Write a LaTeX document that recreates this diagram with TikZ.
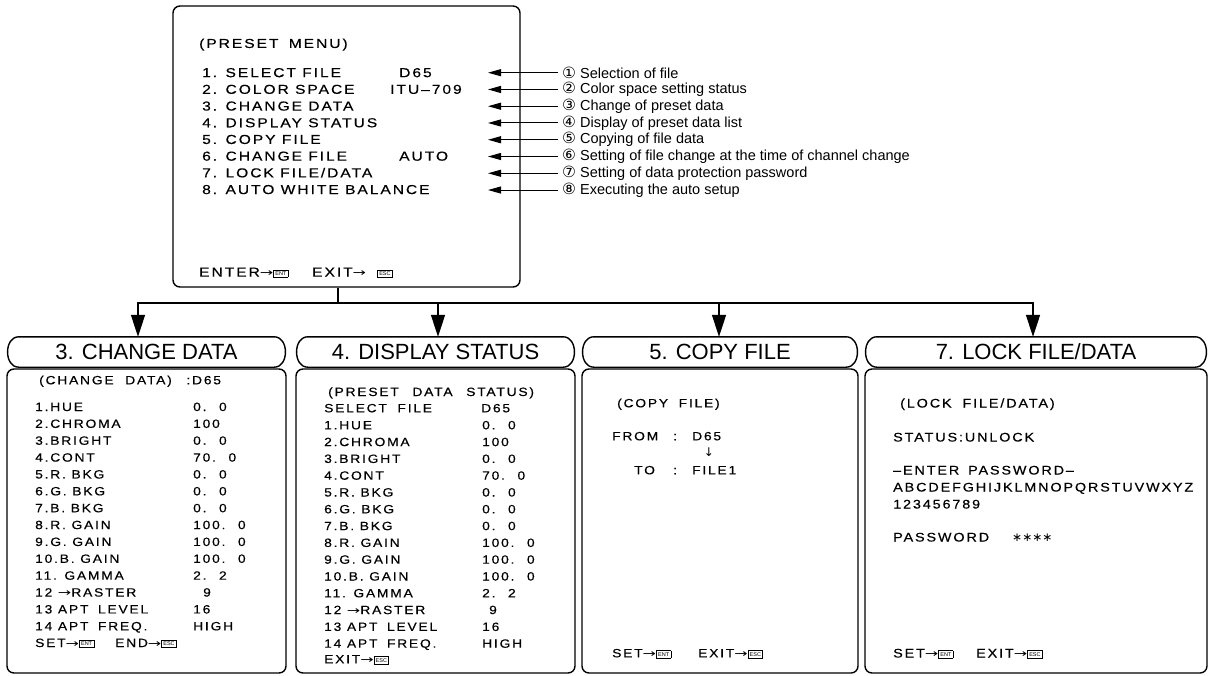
\documentclass[tikz,border=0pt]{standalone}
\usepackage{fontspec}
\setmainfont{Liberation Sans}
\newfontfamily\osdfont[FakeStretch=1.15, LetterSpace=15, FakeBold=0.4]{Liberation Sans}
\newfontfamily\osdtopfont[FakeStretch=1.2, LetterSpace=15, FakeBold=0.4]{Liberation Sans}
\newfontfamily\circfont{DejaVu Sans}
\newfontfamily\keyfont{Liberation Sans}
\usetikzlibrary{arrows.meta}
\newcommand\keycap[1]{{\setlength\fboxsep{0.6pt}\setlength\fboxrule{0.7pt}\raisebox{1.2pt}{\fbox{\hspace{0.8pt}\rule[-0.8pt]{0pt}{5.4pt}\keyfont\fontsize{5.5}{5.5}\selectfont #1\hspace{0.8pt}}}}}
\newcommand\osdarrow{\scalebox{1.45}[1]{\circfont\fontsize{11}{11}\selectfont →}}
\newcommand\osddown{{\circfont\fontsize{12}{12}\selectfont ↓}}
\newcommand\osdgap{\hspace{5pt}}
\newcommand\hdrshape[1]{\draw[boxline] ([xshift=12pt]#1.north west) -- ([xshift=-12pt]#1.north east) .. controls ([xshift=3pt]#1.north east) and ([xshift=3pt]#1.south east) .. ([xshift=-12pt]#1.south east) -- ([xshift=12pt]#1.south west) .. controls ([xshift=-3pt]#1.south west) and ([xshift=-3pt]#1.north west) .. cycle;}
\tikzset{
  boxline/.style={line width=1.4pt},
  panel/.style={boxline, draw, rounded corners=7pt, inner sep=0pt},
  osd/.style={anchor=west, inner sep=0pt, font=\osdfont\fontsize{12}{13}\selectfont, text height=8.6pt, text depth=0pt},
  osdbig/.style={osd, font=\osdfont\fontsize{12.5}{14}\selectfont, text height=9pt},
  osdtop/.style={osd, font=\osdtopfont\fontsize{13}{14}\selectfont, text height=9.3pt},
  note/.style={anchor=west, inner sep=0pt, font=\fontsize{14.5}{16}\selectfont},
  hdr/.style={inner sep=0pt, minimum height=30pt, font=\fontsize{22}{24}\selectfont},
  conn/.style={line width=1.4pt},
  thin conn/.style={line width=1pt},
  bigtip/.tip={Triangle[length=22pt,width=14pt]},
  smalltip/.tip={Triangle[length=13pt,width=7pt]}
}
\begin{document}
\begin{tikzpicture}[x=1pt,y=-1pt]
\useasboundingbox (0,0) rectangle (1209,675);
% ---- top menu ----
\node[panel, minimum width=347pt, minimum height=281pt] (menu) at (346.5,146.5) {};
\node[osdtop] (mt) at (199,43.3) {(PRESET\hspace{4pt} MENU)};
\foreach \t [count=\i] in {1. SELECT FILE, 2. COLOR SPACE, 3. CHANGE DATA, 4. DISPLAY STATUS, 5. COPY FILE, 6. CHANGE FILE, 7. LOCK FILE/DATA, 8. AUTO WHITE BALANCE}
  \node[osdtop] (m\i) at (202,{72.5+16.7*(\i-1)}) {\t};
\node[osdtop] (v1) at (399,72.5) {D65};
\node[osdtop] (v2) at (390,89.2) {ITU–709};
\node[osdtop] (v6) at (399,156) {AUTO};
\node[osdtop] (ent) at (199,272) {ENTER\osdarrow\keycap{ENT}};
\node[osdtop] (ext) at (312,272) {EXIT\osdarrow};
\node[osdtop] (esc) at (377,272) {\keycap{ESC}};
% ---- annotations ----
\coordinate (tipx) at (488,0);
\foreach \c/\t [count=\i] in {①/Selection of file, ②/Color space setting status, ③/Change of preset data, ④/Display of preset data list, ⑤/Copying of file data, ⑥/Setting of file change at the time of channel change, ⑦/Setting of data protection password, ⑧/Executing the auto setup}{
  \node[note] (a\i) at (562,{72.7+16.76*(\i-1)}) {{\circfont\fontsize{15.5}{16}\selectfont\c} \t};
  \draw[thin conn, -smalltip] ([xshift=-4pt]a\i.west) -- (a\i.west -| tipx);
}
% ---- headers and panels ----
\node[hdr, minimum width=279pt] (h3) at (146.5,352) {3. CHANGE DATA};
\node[hdr, minimum width=279pt] (h4) at (435.5,352) {4. DISPLAY STATUS};
\node[hdr, minimum width=276pt] (h5) at (720,352) {5. COPY FILE};
\node[hdr, minimum width=342pt] (h7) at (1036,352) {7. LOCK FILE/DATA};
\hdrshape{h3}\hdrshape{h4}\hdrshape{h5}\hdrshape{h7}
\node[panel, minimum width=279pt, minimum height=304pt] (p3) at (146.5,521) {};
\node[panel, minimum width=279pt, minimum height=304pt] (p4) at (435.5,521) {};
\node[panel, minimum width=276pt, minimum height=304pt] (p5) at (720,521) {};
\node[panel, minimum width=342pt, minimum height=304pt] (p7) at (1036,521) {};
% ---- connectors ----
\coordinate (j) at (338,303);
\coordinate (b1) at (138,303);
\coordinate (b2) at (438,303);
\coordinate (b3) at (719,303);
\coordinate (b4) at (1033,303);
\draw[conn] (menu.south -| j) -- (j);
\draw[conn, bigtip-bigtip] (b1 |- h3.north) -- (b1) -- (b4) -- (b4 |- h7.north);
\draw[conn, -bigtip] (b2) -- (b2 |- h4.north);
\draw[conn, -bigtip] (b3) -- (b3 |- h5.north);
% ---- panel 3: change data ----
\node[osd] (c0) at (39,380) {(CHANGE\hspace{6pt} DATA)\hspace{9pt} :D65};
\foreach \l/\v [count=\i] in {1.HUE/0.\osdgap{} 0, 2.CHROMA/100, 3.BRIGHT/0.\osdgap{} 0, 4.CONT/70.\osdgap{} 0, 5.R. BKG/0.\osdgap{} 0, 6.G. BKG/0.\osdgap{} 0, 7.B. BKG/0.\osdgap{} 0, 8.R. GAIN/100.\osdgap{} 0, 9.G. GAIN/100.\osdgap{} 0, 10.B. GAIN/100.\osdgap{} 0, 11. GAMMA/2.\osdgap{} 2, 12 \osdarrow RASTER/\hspace*{10pt}9, 13 APT\hspace{4pt} LEVEL/16, 14 APT\hspace{4pt} FREQ./HIGH}{
  \node[osd] (cl\i) at (35,{406.7+16.87*(\i-1)}) {\l};
  \node[osd] (cv\i) at (193,{406.7+16.87*(\i-1)}) {\v};
}
\node[osd] (cset) at (35,642.7) {SET\osdarrow\keycap{ENT}};
\node[osd] (cend) at (115,642.7) {END\osdarrow\keycap{ESC}};
% ---- panel 4: display status ----
\node[osd] (d0) at (328,391.7) {(PRESET\hspace{8pt} DATA\hspace{8pt} STATUS)};
\node[osd] (ds) at (324,408) {SELECT\hspace{5pt} FILE};
\node[osd] (dsv) at (481,408) {D65};
\foreach \l/\v [count=\i] in {1.HUE/0.\osdgap{} 0, 2.CHROMA/100, 3.BRIGHT/0.\osdgap{} 0, 4.CONT/70.\osdgap{} 0, 5.R. BKG/0.\osdgap{} 0, 6.G. BKG/0.\osdgap{} 0, 7.B. BKG/0.\osdgap{} 0, 8.R. GAIN/100.\osdgap{} 0, 9.G. GAIN/100.\osdgap{} 0, 10.B. GAIN/100.\osdgap{} 0, 11. GAMMA/2.\osdgap{} 2, 12 \osdarrow RASTER/\hspace*{7pt}9, 13 APT\hspace{4pt} LEVEL/16, 14 APT\hspace{4pt} FREQ./HIGH}{
  \node[osd] (dl\i) at (324,{425+16.8*(\i-1)}) {\l};
  \node[osd] (dv\i) at (482,{425+16.8*(\i-1)}) {\v};
}
\node[osd] (dexit) at (324,659) {EXIT\osdarrow\keycap{ESC}};
% ---- panel 5: copy file ----
\node[osd] (f0) at (617,403) {(COPY\hspace{5pt} FILE)};
\node[osd] (ffrom) at (612,436) {FROM};
\node[osd] (fc1) at (673,436) {:};
\node[osd] (fsrc) at (692,436) {D65};
\node[osd, anchor=center] (farr) at (709,452) {\osddown};
\node[osd] (fto) at (634,470) {TO};
\node[osd] (fc2) at (673,470) {:};
\node[osd] (fdst) at (692,470) {FILE1};
\node[osd] (fset) at (612,653) {SET\osdarrow\keycap{ENT}};
\node[osd] (fexit) at (698,653) {EXIT\osdarrow\keycap{ESC}};
% ---- panel 7: lock file/data ----
\node[osdbig] (l0) at (900,403) {(LOCK\hspace{5pt} FILE/DATA)};
\node[osdbig] (lst) at (893,437) {STATUS:UNLOCK};
\node[osdbig] (lpw) at (893,470) {–ENTER\hspace{3pt} PASSWORD–};
\node[osdbig] (labc) at (893,487) {ABCDEFGHIJKLMNOPQRSTUVWXYZ};
\node[osdbig] (lnum) at (893,504) {123456789};
\node[osdbig] (lpass) at (893,537) {PASSWORD};
\node[osdbig] (lstar) at (1012,537) {{\circfont\fontsize{12}{12}\selectfont ∗∗∗∗}};
\node[osdbig] (lset) at (893,653) {SET\osdarrow\keycap{ENT}};
\node[osdbig] (lexit) at (976,653) {EXIT\osdarrow\keycap{ESC}};
\end{tikzpicture}
\end{document}
